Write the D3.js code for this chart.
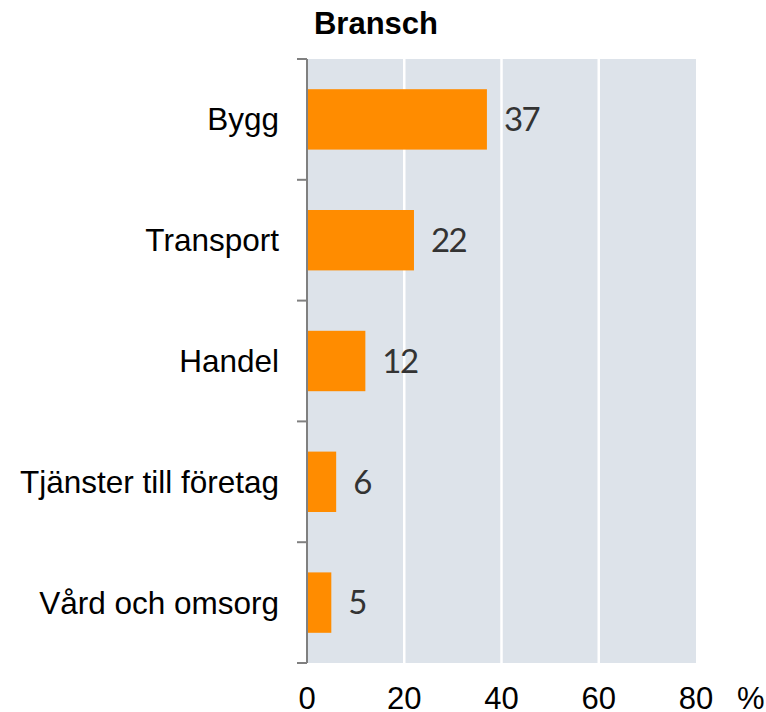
<!DOCTYPE html>
<html><head><meta charset="utf-8">
<script src="https://cdn.jsdelivr.net/npm/d3@7"></script>
<style>body{margin:0;background:#fff}</style>
</head><body>
<svg id="c" width="766" height="712"></svg>
<script>
const categories = ["Bygg","Transport","Handel","Tjänster till företag","Vård och omsorg"];
const values = [37,22,12,6,5];
const xTicks = [0,20,40,60,80];
const title = "Bransch";

const svg = d3.select("#c");
const m = {left:307, right:696, top:59, bottom:663};
const x = d3.scaleLinear().domain([0,80]).range([m.left,m.right]);
const y = d3.scaleBand().domain(categories).range([m.top,m.bottom]).paddingInner(0.5).paddingOuter(0.25);

svg.append("rect").attr("x",m.left).attr("y",m.top).attr("width",m.right-m.left).attr("height",m.bottom-m.top).attr("fill","#dde3ea");
svg.selectAll(".grid").data([20,40,60]).enter().append("line")
  .attr("x1",d=>x(d)).attr("x2",d=>x(d)).attr("y1",m.top).attr("y2",m.bottom)
  .attr("stroke","#fff").attr("stroke-width",2.5);

svg.selectAll(".bar").data(values).enter().append("rect")
  .attr("x",x(0)).attr("y",(d,i)=>y(categories[i])).attr("width",d=>x(d)-x(0)).attr("height",y.bandwidth())
  .attr("fill","#ff8c00");

const bandStep = (m.bottom-m.top)/categories.length;
const tickYs = d3.range(categories.length+1).map(i=>m.top+i*bandStep);
svg.append("line").attr("x1",m.left).attr("x2",m.left).attr("y1",m.top).attr("y2",m.bottom).attr("stroke","#808080").attr("stroke-width",2);
svg.selectAll(".tk").data(tickYs).enter().append("line")
  .attr("x1",m.left-10).attr("x2",m.left).attr("y1",d=>d).attr("y2",d=>d).attr("stroke","#808080").attr("stroke-width",2);

const F = "Liberation Sans, Arial, sans-serif";
svg.selectAll(".cat").data(categories).enter().append("text")
  .attr("x",279).attr("y",d=>y(d)+y.bandwidth()/2).attr("dy","0.35em")
  .attr("text-anchor","end").attr("font-family",F).attr("font-size",31.5)
  .attr("fill","#000").text(d=>d);

svg.selectAll(".val").data(values).enter().append("text")
  .attr("x",d=>x(d)+17).attr("y",(d,i)=>y(categories[i])+y.bandwidth()/2).attr("dy","0.36em")
  .attr("font-family","Lato, 'Open Sans', sans-serif").attr("font-size",33).attr("letter-spacing",-1.5)
  .attr("fill","#333").text(d=>d);

svg.selectAll(".xt").data(xTicks).enter().append("text")
  .attr("x",d=>x(d)).attr("y",709).attr("text-anchor","middle")
  .attr("font-family",F).attr("font-size",31).attr("fill","#000").text(d=>d);
svg.append("text").attr("x",737).attr("y",709).attr("font-family",F).attr("font-size",31).text("%");

svg.append("text").attr("x",376).attr("y",34).attr("text-anchor","middle")
  .attr("font-family",F).attr("font-size",31).attr("font-weight","bold").text(title);
</script>
</body></html>
